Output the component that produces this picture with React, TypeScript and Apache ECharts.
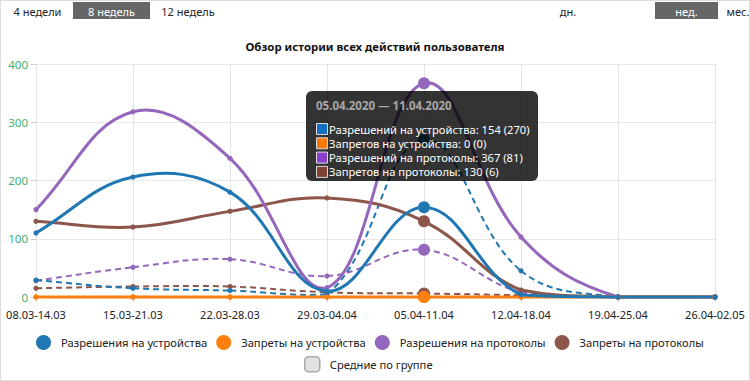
import React, { useEffect, useRef } from 'react';
import * as echarts from 'echarts';

const categories = ['08.03-14.03', '15.03-21.03', '22.03-28.03', '29.03-04.04', '05.04-11.04', '12.04-18.04', '19.04-25.04', '26.04-02.05'];
const seriesNames = ['Разрешения на устройства', 'Запреты на устройства', 'Разрешения на протоколы', 'Запреты на протоколы'];
const deviceAllow = [110, 206, 180, 10, 154, 4, 0, 0];
const deviceDeny = [0, 0, 0, 0, 0, 0, 0, 0];
const protoAllow = [150, 318, 238, 16, 367, 103, 0, 0];
const protoDeny = [130, 120, 147, 170, 130, 12, 0, 0];
const avgDeviceAllow = [29, 15, 11, 5, 270, 45, 0, 0];
const avgDeviceDeny = [0, 0, 0, 0, 0, 0, 0, 0];
const avgProtoAllow = [28, 51, 65, 36, 81, 8, 0, 0];
const avgProtoDeny = [15, 18, 18, 8, 6, 3, 0, 0];
const avgName = 'Средние по группе';
const yMin = 0;
const yMax = 400;
const yStep = 100;
const chartTitle = 'Обзор истории всех действий пользователя';
const periodButtons = ['4 недели', '8 недель', '12 недель'];
const periodSelected = 1;
const scaleButtons = ['дн.', 'нед.', 'мес.'];
const scaleSelected = 1;
const tooltipTitle = '05.04.2020 — 11.04.2020';
const tooltipLabels = ['Разрешений на устройства', 'Запретов на устройства', 'Разрешений на протоколы', 'Запретов на протоколы'];
const highlightIndex = 4;

const colors = ['#1f77b4', '#ff7f0e', '#9467bd', '#8c564b'];
const tipColors = ['#1170c4', '#f97a0c', '#8a3fcf', '#7f4334'];
const FONT = "'Noto Sans', 'Open Sans', sans-serif";
const TENSION = 0.4;

function curveSeries(name: string, values: number[], color: string, dashed: boolean, z: number) {
  const n = values.length;
  const lineWidth = dashed ? 2 : 3;
  return {
    type: 'custom',
    name,
    z,
    clip: false,
    itemStyle: { color },
    data: values.map((v, i) => [i, v]),
    encode: { x: 0, y: 1 },
    renderItem: (params: any, api: any) => {
      const i = params.dataIndex;
      const cs = params.coordSys;
      const pt = (k: number) => {
        const c = Math.max(0, Math.min(n - 1, k));
        return api.coord([c, values[c]]);
      };
      const cap = (p: number[]) => [
        Math.max(cs.x, Math.min(cs.x + cs.width, p[0])),
        Math.max(cs.y, Math.min(cs.y + cs.height, p[1])),
      ];
      const ctrl = (k: number) => {
        const prev = pt(k - 1);
        const cur = pt(k);
        const next = pt(k + 1);
        const d01 = Math.hypot(cur[0] - prev[0], cur[1] - prev[1]);
        const d12 = Math.hypot(next[0] - cur[0], next[1] - cur[1]);
        let s01 = d01 / (d01 + d12);
        let s12 = d12 / (d01 + d12);
        if (!isFinite(s01)) s01 = 0;
        if (!isFinite(s12)) s12 = 0;
        const fa = TENSION * s01;
        const fb = TENSION * s12;
        return {
          prev: cap([cur[0] - fa * (next[0] - prev[0]), cur[1] - fa * (next[1] - prev[1])]),
          next: cap([cur[0] + fb * (next[0] - prev[0]), cur[1] + fb * (next[1] - prev[1])]),
        };
      };
      const p1 = pt(i);
      const children: any[] = [];
      if (i < n - 1) {
        const p2 = pt(i + 1);
        const c1 = ctrl(i).next;
        const c2 = ctrl(i + 1).prev;
        children.push({
          type: 'bezierCurve',
          silent: true,
          shape: { x1: p1[0], y1: p1[1], cpx1: c1[0], cpy1: c1[1], cpx2: c2[0], cpy2: c2[1], x2: p2[0], y2: p2[1] },
          style: { stroke: color, lineWidth, fill: null, lineDash: dashed ? [6, 4] : null },
        });
      }
      const r = i === highlightIndex ? 6 : 2.6;
      children.push({ type: 'circle', z2: 10, shape: { cx: p1[0], cy: p1[1], r }, style: { fill: color } });
      return { type: 'group', children };
    },
  };
}

export default function App() {
  const ref = useRef<HTMLDivElement>(null);
  useEffect(() => {
    document.body.style.margin = '0';
    const chart = echarts.init(ref.current!, null, { renderer: 'svg' });
    const solid = [deviceAllow, deviceDeny, protoAllow, protoDeny];
    const avg = [avgDeviceAllow, avgDeviceDeny, avgProtoAllow, avgProtoDeny];
    const order = [3, 2, 1, 0];
    const series: any[] = [];
    order.forEach((i) => series.push(curveSeries(avgName, avg[i], colors[i], true, 2)));
    order.forEach((i) => series.push(curveSeries(seriesNames[i], solid[i], colors[i], false, 3)));

    const graphic: any[] = [];
    const btnFont = `11px ${FONT}`;
    const leftCenters = [37.5, 111.5, 188];
    periodButtons.forEach((t, k) => {
      const cx = leftCenters[k];
      if (k === periodSelected) {
        graphic.push({ type: 'rect', shape: { x: 73, y: 2, width: 77, height: 17 }, style: { fill: '#666' } });
      }
      graphic.push({ type: 'text', x: cx, y: 11, style: { text: t, fill: k === periodSelected ? '#fff' : '#222', font: btnFont, align: 'center', verticalAlign: 'middle' } });
    });
    const rightCenters = [568, 686.5, 738];
    scaleButtons.forEach((t, k) => {
      const cx = rightCenters[k];
      if (k === scaleSelected) {
        graphic.push({ type: 'rect', shape: { x: 655, y: 2, width: 63, height: 17 }, style: { fill: '#666' } });
      }
      graphic.push({ type: 'text', x: cx, y: 11, style: { text: t, fill: k === scaleSelected ? '#fff' : '#222', font: btnFont, align: 'center', verticalAlign: 'middle' } });
    });

    // tooltip overlay
    const tx = 306, ty = 91;
    graphic.push({ type: 'rect', shape: { x: tx, y: ty, width: 232, height: 90, r: 6 }, style: { fill: 'rgba(0,0,0,0.8)' }, z: 100 });
    graphic.push({ type: 'text', x: tx + 10, y: ty + 14, style: { text: tooltipTitle, fill: '#a8a8a8', font: `bold 11.5px ${FONT}`, verticalAlign: 'middle' }, z: 101 });
    tooltipLabels.forEach((l, i) => {
      const yy = ty + 38 + i * 14.3;
      graphic.push({ type: 'rect', shape: { x: tx + 10.5, y: yy - 5.5, width: 11, height: 11 }, style: { fill: tipColors[i], stroke: '#ddd', lineWidth: 1 }, z: 101 });
      graphic.push({ type: 'text', x: tx + 23, y: yy, style: { text: `${l}: ${solid[i][highlightIndex]} (${avg[i][highlightIndex]})`, fill: '#fff', font: `11.2px ${FONT}`, verticalAlign: 'middle' }, z: 101 });
    });

    chart.setOption({
      animation: false,
      textStyle: { fontFamily: FONT },
      title: {
        text: chartTitle,
        left: 'center',
        top: 36,
        textStyle: { fontSize: 11.4, fontWeight: 'bold', color: '#111', fontFamily: FONT },
      },
      grid: { left: 36, right: 35, top: 64, bottom: 84 },
      legend: [
        {
          data: seriesNames.map((n) => ({ name: n, icon: 'circle' })),
          left: 31,
          top: 330,
          width: 715,
          itemWidth: 15,
          itemHeight: 15,
          itemGap: 9,
          textStyle: { fontSize: 11.2, color: '#222', padding: [0, 0, 0, 5], fontFamily: FONT },
        },
        {
          data: [{ name: avgName, icon: 'roundRect', itemStyle: { color: '#e2e2e2', borderColor: '#aaa', borderWidth: 1.5 } }],
          left: 299,
          top: 351,
          itemWidth: 15,
          itemHeight: 15,
          textStyle: { fontSize: 11.2, color: '#222', padding: [0, 0, 0, 5], fontFamily: FONT },
        },
      ],
      xAxis: {
        type: 'category',
        data: categories,
        boundaryGap: false,
        axisLine: { lineStyle: { color: '#999' } },
        axisTick: { show: true, length: 5, lineStyle: { color: '#ccc' } },
        axisLabel: { color: '#222', fontSize: 11, margin: 12, fontFamily: FONT },
        splitLine: { show: true, lineStyle: { color: '#e3e3e3' } },
      },
      yAxis: {
        type: 'value',
        min: yMin,
        max: yMax,
        interval: yStep,
        axisLine: { show: false },
        axisTick: { show: true, length: 5, lineStyle: { color: '#ccc' } },
        axisLabel: { color: '#3cb371', fontSize: 11.5, margin: 8, fontFamily: FONT },
        splitLine: { lineStyle: { color: '#e8e8e8' } },
      },
      graphic,
      series,
    });
    return () => chart.dispose();
  }, []);
  return (
    <div style={{ position: 'relative', width: 750, height: 381 }}>
      <div ref={ref} style={{ position: 'absolute', left: 0, top: 0, width: 750, height: 381 }} />
      <div style={{ position: 'absolute', left: 0, top: 0, width: 750, height: 381, border: '1px solid #ddd', boxSizing: 'border-box', pointerEvents: 'none' }} />
    </div>
  );
}
